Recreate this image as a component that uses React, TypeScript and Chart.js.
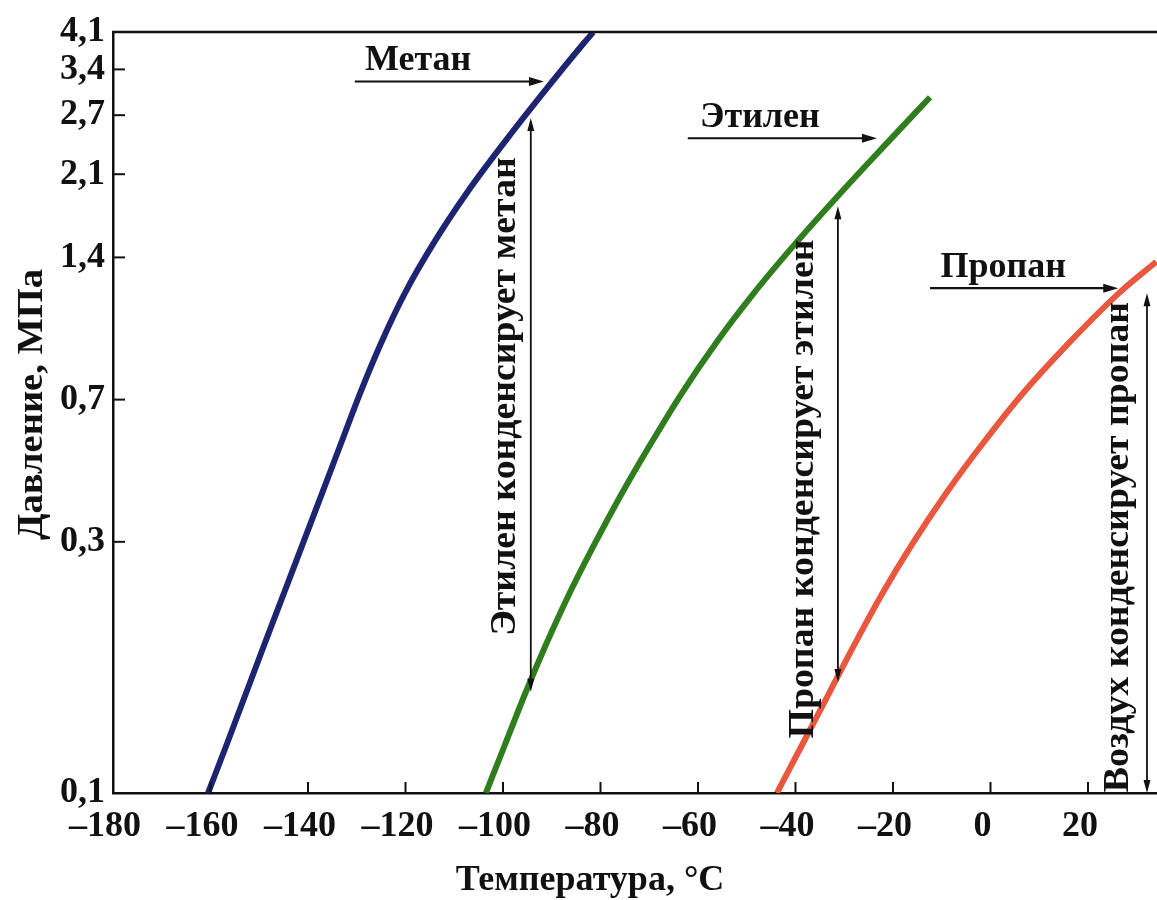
import React, { useEffect, useRef } from "react";
import { Chart, registerables } from "chart.js";

Chart.register(...registerables);

// ---- data: saturation temperature (°C) vs pressure (MPa) ----
const methaneT = [-160.5, -156.6, -152.7, -148.8, -144.9, -141.0, -137.1, -133.2, -129.3, -125.0, -120.1, -114.2, -107.4, -99.8, -91.8, -83.4, -81.5];
const methaneP = [0.1014, 0.129, 0.165, 0.211, 0.269, 0.343, 0.437, 0.558, 0.712, 0.909, 1.16, 1.48, 1.89, 2.41, 3.07, 3.92, 4.13];

const ethyleneT = [-103.5, -99.5, -95.4, -91.0, -86.3, -81.1, -75.6, -69.6, -63.3, -56.3, -48.5, -39.9, -30.7, -21.2, -12.4];
const ethyleneP = [0.1014, 0.129, 0.165, 0.211, 0.269, 0.343, 0.437, 0.558, 0.712, 0.909, 1.16, 1.48, 1.89, 2.41, 3.01];

const propaneT = [-43.8, -38.5, -33.1, -27.7, -22.1, -15.9, -9.1, -1.5, 6.7, 16.1, 26.4, 34.0];
const propaneP = [0.1014, 0.129, 0.165, 0.211, 0.269, 0.343, 0.437, 0.558, 0.712, 0.909, 1.16, 1.35];

// x axis: range and ticks (°C)
const xMin = -180;
const xMax = 40;
const xTicks = [-180, -160, -140, -120, -100, -80, -60, -40, -20, 0, 20];
// the source's log pressure axis is spaced in psia and labelled in rounded MPa
const yTickPsi = [14.7, 50, 100, 200, 300, 400, 500, 600];
const yTickLabels = ["0,1", "0,3", "0,7", "1,4", "2,1", "2,7", "3,4", "4,1"];
const PSI_TO_MPA = 0.00689476;

// horizontal "gas" arrows (T from/to, pressure level) and their labels
const flowArrows = [
  { label: "Метан", fromT: -130.4, toT: -91.6, p: 3.25, labelT: -117.4, labelP: 3.43 },
  { label: "Этилен", fromT: -62.1, toT: -23.3, p: 2.465, labelT: -47.3, labelP: 2.6 },
  { label: "Пропан", fromT: -12.4, toT: 26.2, p: 1.187, labelT: 2.6, labelP: 1.253 },
];
// vertical double arrows "X condenses Y"
const condenseArrows = [
  { label: "Этилен конденсирует метан", t: -94.3, lowP: 0.166, highP: 2.72, labelT: -97.5, labelP: 0.7 },
  { label: "Пропан конденсирует этилен", t: -31.3, lowP: 0.174, highP: 1.77, labelT: -36.4, labelP: 0.446 },
  { label: "Воздух конденсирует пропан", t: 32.1, lowP: 0.1014, highP: 1.158, labelT: 28.2, labelP: 0.336 },
];

const xTitle = "Температура, °C";
const yTitle = "Давление, МПа";

const FONT_FAMILY = '"Liberation Serif", "Times New Roman", serif';
const FONT = `bold 36px ${FONT_FAMILY}`;
const INK = "#111111";

const toPoints = (ts: number[], ps: number[]) => ts.map((t, i) => ({ x: t, y: ps[i] }));
const xLabel = (v: number) => (v < 0 ? "–" + Math.abs(v) : String(v));

function arrowHead(ctx: CanvasRenderingContext2D, x: number, y: number, dx: number, dy: number, len: number, half: number) {
  ctx.beginPath();
  ctx.moveTo(x, y);
  ctx.lineTo(x - dx * len - dy * half, y - dy * len + dx * half);
  ctx.lineTo(x - dx * len + dy * half, y - dy * len - dx * half);
  ctx.closePath();
  ctx.fill();
}

function rotatedText(ctx: CanvasRenderingContext2D, text: string, x: number, y: number, stretch: number) {
  ctx.save();
  ctx.translate(x, y);
  ctx.rotate(-Math.PI / 2);
  ctx.scale(stretch, 1);
  ctx.textAlign = "center";
  ctx.textBaseline = "alphabetic";
  ctx.fillText(text, 0, 0);
  ctx.restore();
}

const decorPlugin = {
  id: "decor",
  afterDatasetsDraw(chart: any) {
    const { ctx, chartArea } = chart;
    const xs = chart.scales.x;
    const ys = chart.scales.y;
    ctx.save();
    ctx.strokeStyle = INK;
    ctx.fillStyle = INK;
    ctx.lineCap = "butt";

    // top frame line
    ctx.lineWidth = 2.5;
    ctx.beginPath();
    ctx.moveTo(chartArea.left - 1, chartArea.top);
    ctx.lineTo(chartArea.right, chartArea.top);
    ctx.stroke();

    // inward tick marks
    ctx.lineWidth = 2;
    xTicks.forEach((v, i) => {
      if (i === 0) return;
      const px = xs.getPixelForValue(v);
      ctx.beginPath();
      ctx.moveTo(px, chartArea.bottom);
      ctx.lineTo(px, chartArea.bottom - 11);
      ctx.stroke();
    });
    yTickPsi.forEach((v, i) => {
      if (i === 0 || i === yTickPsi.length - 1) return;
      const py = ys.getPixelForValue(v * PSI_TO_MPA);
      ctx.beginPath();
      ctx.moveTo(chartArea.left, py);
      ctx.lineTo(chartArea.left + 12, py);
      ctx.stroke();
    });

    ctx.font = FONT;

    // horizontal arrows with labels
    flowArrows.forEach((a) => {
      const x0 = xs.getPixelForValue(a.fromT);
      const x1 = xs.getPixelForValue(a.toT);
      const y = ys.getPixelForValue(a.p);
      ctx.lineWidth = 2.2;
      ctx.beginPath();
      ctx.moveTo(x0, y);
      ctx.lineTo(x1 - 10, y);
      ctx.stroke();
      arrowHead(ctx, x1, y, 1, 0, 15, 4.5);
      ctx.textAlign = "center";
      ctx.textBaseline = "alphabetic";
      ctx.fillText(a.label, xs.getPixelForValue(a.labelT), ys.getPixelForValue(a.labelP));
    });

    // vertical double arrows with rotated labels
    condenseArrows.forEach((a) => {
      const x = xs.getPixelForValue(a.t);
      const yLow = ys.getPixelForValue(a.lowP);
      const yHigh = ys.getPixelForValue(a.highP);
      ctx.lineWidth = 1.8;
      ctx.beginPath();
      ctx.moveTo(x, yLow - 8);
      ctx.lineTo(x, yHigh + 8);
      ctx.stroke();
      arrowHead(ctx, x, yHigh, 0, -1, 13, 3.5);
      arrowHead(ctx, x, yLow, 0, 1, 13, 3.5);
      rotatedText(ctx, a.label, xs.getPixelForValue(a.labelT), ys.getPixelForValue(a.labelP), 1.05);
    });

    // axis titles
    ctx.textAlign = "center";
    ctx.textBaseline = "alphabetic";
    ctx.fillText(xTitle, chartArea.left + 477, chartArea.bottom + 97);
    rotatedText(ctx, yTitle, chartArea.left - 71, (chartArea.top + chartArea.bottom) / 2 - 8, 1.07);

    ctx.restore();
  },
};

export default function App() {
  const canvasRef = useRef<HTMLCanvasElement | null>(null);

  useEffect(() => {
    const canvas = canvasRef.current;
    if (!canvas) return;
    const tickFont = { family: FONT_FAMILY, size: 36, weight: "bold" as const };

    const chart = new Chart(canvas, {
      type: "line",
      data: {
        datasets: [
          { label: "Метан", data: toPoints(methaneT, methaneP), borderColor: "#1d2472", borderWidth: 6, pointRadius: 0, cubicInterpolationMode: "monotone", fill: false },
          { label: "Этилен", data: toPoints(ethyleneT, ethyleneP), borderColor: "#2f7d1d", borderWidth: 6, pointRadius: 0, cubicInterpolationMode: "monotone", fill: false },
          { label: "Пропан", data: toPoints(propaneT, propaneP), borderColor: "#e9573f", borderWidth: 6, pointRadius: 0, cubicInterpolationMode: "monotone", fill: false },
        ],
      },
      options: {
        responsive: false,
        animation: false,
        devicePixelRatio: 1,
        layout: { padding: { top: 32, right: 14.5, left: 0, bottom: 0 } },
        plugins: {
          legend: { display: false },
          tooltip: { enabled: false },
          title: { display: false },
        },
        scales: {
          x: {
            type: "linear",
            position: "bottom",
            min: xMin,
            max: xMax,
            afterBuildTicks: (s: any) => {
              s.ticks = xTicks.map((v) => ({ value: v }));
            },
            afterFit: (s: any) => {
              s.height = 107;
            },
            grid: { display: false, drawTicks: false },
            border: { display: true, color: INK, width: 2.5 },
            ticks: {
              color: INK,
              font: tickFont,
              padding: 12,
              autoSkip: false,
              maxRotation: 0,
              minRotation: 0,
              labelOffset: -8,
              callback: (v: any) => xLabel(Number(v)),
            },
          },
          y: {
            type: "logarithmic",
            position: "left",
            min: yTickPsi[0] * PSI_TO_MPA,
            max: yTickPsi[yTickPsi.length - 1] * PSI_TO_MPA,
            afterBuildTicks: (s: any) => {
              s.ticks = yTickPsi.map((v) => ({ value: v * PSI_TO_MPA }));
            },
            afterFit: (s: any) => {
              s.width = 113;
            },
            grid: { display: false, drawTicks: false },
            border: { display: true, color: INK, width: 2.5 },
            ticks: {
              color: INK,
              font: tickFont,
              padding: 8,
              autoSkip: false,
              callback: (_v: any, i: number) => yTickLabels[i],
            },
          },
        },
      },
      plugins: [decorPlugin],
    } as any);

    return () => chart.destroy();
  }, []);

  return (
    <div style={{ position: "fixed", left: 0, top: 0, width: 1157, height: 900, overflow: "hidden", background: "#ffffff" }}>
      <canvas ref={canvasRef} width={1200} height={900} style={{ display: "block", width: 1200, height: 900 }} />
    </div>
  );
}
